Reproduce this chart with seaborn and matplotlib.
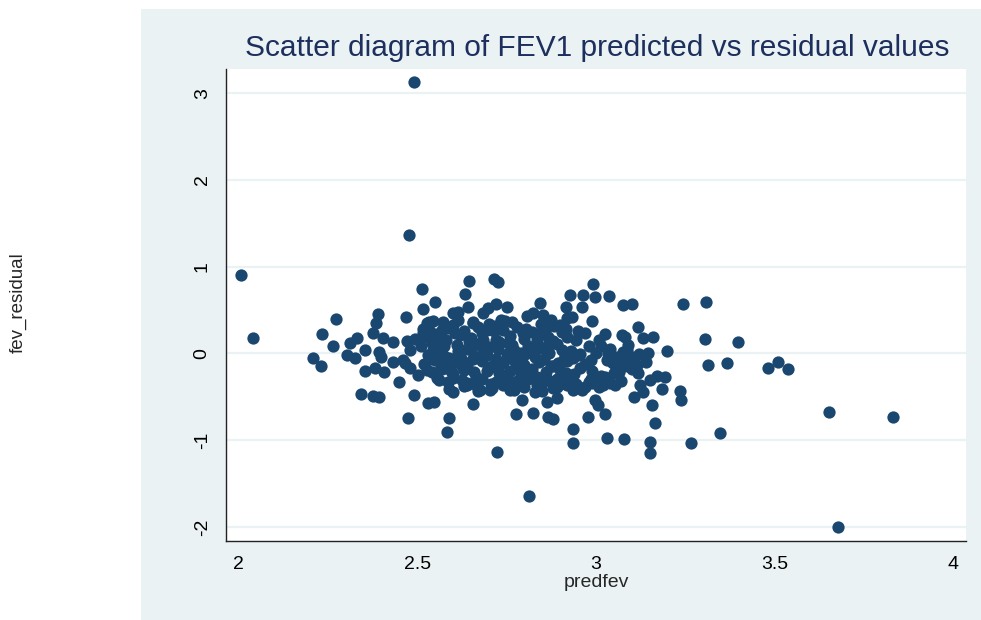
import matplotlib
matplotlib.use("Agg")
import matplotlib.pyplot as plt
import seaborn as sns
import pandas as pd
from matplotlib.patches import Rectangle

# Points (predfev, fev_residual)
# outer / sparse points
outer_x = [2.492, 2.477, 2.006, 2.040, 2.209, 2.231, 2.233, 2.272, 2.264,
           2.813, 3.679, 3.833, 3.653, 3.348, 3.265, 3.399, 3.367, 3.309, 3.245, 3.304,
           3.315, 3.483, 3.511, 3.539, 3.234, 3.237, 3.152, 3.152, 3.166, 3.158,
           3.186, 3.107, 3.079, 3.031, 3.026, 2.979, 2.937, 2.937, 2.998, 3.006, 2.722]
outer_y = [3.13, 1.365, 0.90, 0.18, -0.05, -0.15, 0.22, 0.40, 0.08,
           -1.646, -2.0, -0.73, -0.68, -0.915, -1.03, 0.13, -0.11, 0.59, 0.57, 0.165,
           -0.135, -0.17, -0.10, -0.18, -0.435, -0.54, -1.02, -1.15, -0.80, -0.596,
           -0.41, -0.50, -0.99, -0.98, -0.70, -0.73, -0.87, -1.03, -0.54, -0.60, -1.14]

# upper edge of the main cloud
upper_x = [2.645, 2.715, 2.726, 2.513, 2.634, 2.55, 2.517, 2.469, 2.642, 2.72,
           2.752, 2.698, 2.844, 2.928, 2.964, 2.992, 2.998, 3.037, 3.077, 3.102,
           2.916, 2.961, 2.824, 2.806, 2.853, 2.855, 2.99, 2.919, 2.933, 2.883,
           2.746, 2.684, 2.718, 2.656, 2.60, 2.614, 2.572, 2.533, 2.516, 3.119,
           3.073, 3.082, 3.133, 3.161, 3.2, 3.146, 3.034]
upper_y = [0.835, 0.855, 0.82, 0.74, 0.69, 0.59, 0.51, 0.42, 0.53, 0.57,
           0.53, 0.52, 0.58, 0.67, 0.67, 0.80, 0.65, 0.66, 0.56, 0.57,
           0.53, 0.53, 0.465, 0.43, 0.44, 0.36, 0.37, 0.41, 0.42, 0.315,
           0.37, 0.465, 0.315, 0.35, 0.465, 0.48, 0.36, 0.36, 0.28, 0.305,
           0.21, 0.19, 0.175, 0.19, 0.03, 0.00, -0.01]

# left part of the cloud
left_x = [2.39, 2.385, 2.376, 2.404, 2.432, 2.331, 2.312, 2.354, 2.304, 2.326,
          2.393, 2.399, 2.433, 2.461, 2.354, 2.382, 2.407, 2.45, 2.343, 2.376,
          2.393, 2.492, 2.474, 2.530, 2.547, 2.48, 2.502, 2.527, 2.471, 2.494,
          2.48, 2.516, 2.527, 2.466, 2.556]
left_y = [0.46, 0.35, 0.23, 0.175, 0.13, 0.175, 0.12, 0.04, -0.02, -0.055,
          0.015, -0.04, -0.10, -0.08, -0.20, -0.17, -0.21, -0.33, -0.47, -0.49,
          -0.50, -0.48, -0.75, -0.57, -0.56, -0.17, -0.25, -0.19, 0.14, 0.165,
          0.04, 0.23, 0.35, -0.11, -0.285]

# lower edge and right part of the cloud
lower_x = [2.589, 2.583, 2.656, 2.777, 2.825, 2.793, 2.867, 2.879, 2.85, 2.864,
           2.891, 2.639, 2.601, 2.676, 2.704, 2.76, 2.844, 2.891, 2.937, 2.951,
           2.97, 2.99, 3.152, 3.171, 3.194, 3.124, 3.133, 3.026, 3.021, 3.04,
           3.054, 3.086, 3.1, 3.068, 3.049, 3.077, 3.096, 3.115, 3.119]
lower_y = [-0.75, -0.91, -0.585, -0.70, -0.69, -0.54, -0.73, -0.76, -0.435, -0.56,
           -0.52, -0.365, -0.44, -0.42, -0.42, -0.42, -0.42, -0.385, -0.42, -0.385,
           -0.385, -0.345, -0.31, -0.26, -0.27, -0.365, -0.44, -0.27, -0.365, -0.345,
           -0.365, 0.04, -0.04, -0.04, -0.115, -0.115, -0.155, -0.135, -0.23]

# dense core of the cloud
core_x = [2.53, 2.57, 2.60, 2.63, 2.67, 2.70, 2.74, 2.78, 2.82, 2.86, 2.90, 2.95,
          2.52, 2.55, 2.58, 2.62, 2.65, 2.68, 2.72, 2.76, 2.80, 2.84, 2.88, 2.92, 2.97, 3.01,
          2.51, 2.54, 2.57, 2.61, 2.64, 2.67, 2.70, 2.73, 2.77, 2.81, 2.85, 2.89, 2.93, 2.98, 3.04, 3.09,
          2.53, 2.56, 2.59, 2.62, 2.66, 2.69, 2.72, 2.75, 2.79, 2.83, 2.87, 2.91, 2.95, 3.00, 3.06, 3.12,
          2.52, 2.55, 2.58, 2.61, 2.64, 2.68, 2.71, 2.74, 2.77, 2.80, 2.84, 2.88, 2.92, 2.97, 3.03, 3.08, 3.14,
          2.54, 2.57, 2.60, 2.63, 2.66, 2.70, 2.73, 2.76, 2.79, 2.82, 2.86, 2.90, 2.94, 2.99, 3.05, 3.10,
          2.56, 2.60, 2.64, 2.68, 2.72, 2.75, 2.78, 2.81, 2.85, 2.89, 2.93, 2.98, 3.02, 3.07,
          2.59, 2.63, 2.67, 2.71, 2.74, 2.77, 2.80, 2.83, 2.88, 2.92, 2.96, 3.01]
core_y = [0.31, 0.27, 0.33, 0.26, 0.30, 0.34, 0.27, 0.31, 0.25, 0.29, 0.33, 0.26,
          0.19, 0.22, 0.16, 0.21, 0.18, 0.23, 0.15, 0.20, 0.17, 0.22, 0.14, 0.19, 0.23, 0.16,
          0.08, 0.12, 0.06, 0.10, 0.05, 0.11, 0.07, 0.13, 0.04, 0.09, 0.06, 0.11, 0.03, 0.08, 0.05, 0.10,
          -0.02, 0.02, -0.05, 0.01, -0.03, 0.02, -0.06, -0.01, 0.01, -0.04, 0.00, -0.07, -0.02, 0.01, -0.04, -0.01,
          -0.12, -0.08, -0.14, -0.10, -0.13, -0.09, -0.15, -0.11, -0.08, -0.13, -0.10, -0.15, -0.09, -0.12, -0.08, -0.14, -0.10,
          -0.21, -0.18, -0.24, -0.19, -0.22, -0.17, -0.23, -0.20, -0.25, -0.18, -0.22, -0.19, -0.24, -0.20, -0.23, -0.18,
          -0.31, -0.28, -0.34, -0.29, -0.33, -0.27, -0.32, -0.29, -0.34, -0.30, -0.28, -0.33, -0.29, -0.32,
          -0.41, -0.38, -0.43, -0.40, -0.37, -0.42, -0.39, -0.44, -0.40, -0.37, -0.42, -0.39]

# more points filling the gaps of the dense core
fill_x = [2.545, 2.585, 2.615, 2.655, 2.695, 2.735, 2.765, 2.805, 2.845, 2.875, 2.915,
          2.535, 2.565, 2.605, 2.645, 2.685, 2.715, 2.755, 2.795, 2.835, 2.865, 2.905, 2.945, 3.025,
          2.545, 2.575, 2.615, 2.655, 2.685, 2.725, 2.765, 2.795, 2.825, 2.865, 2.905, 2.955, 3.015, 3.075,
          2.535, 2.575, 2.625, 2.655, 2.695, 2.725, 2.755, 2.785, 2.825, 2.855, 2.895, 2.935, 2.985, 3.045, 3.095,
          2.565, 2.595, 2.625, 2.665, 2.695, 2.745, 2.775, 2.805, 2.835, 2.875, 2.915, 2.955, 3.015, 3.065,
          2.585, 2.625, 2.665, 2.705, 2.735, 2.765, 2.795, 2.835, 2.865, 2.905, 2.945, 2.985, 3.035]
fill_y = [0.37, 0.29, 0.38, 0.36, 0.27, 0.39, 0.36, 0.28, 0.34, 0.38, 0.28,
          0.25, 0.14, 0.24, 0.14, 0.16, 0.26, 0.12, 0.24, 0.15, 0.19, 0.25, 0.15, 0.22,
          0.04, 0.08, 0.03, 0.09, 0.01, 0.05, 0.10, -0.03, 0.05, 0.10, 0.04, -0.01, 0.08, 0.02,
          -0.07, -0.03, -0.08, -0.06, -0.02, -0.11, -0.05, -0.09, -0.01, -0.07, -0.11, -0.05, -0.08, -0.10, -0.06,
          -0.16, -0.20, -0.15, -0.27, -0.20, -0.25, -0.16, -0.21, -0.27, -0.15, -0.23, -0.17, -0.26, -0.21,
          -0.33, -0.31, -0.37, -0.35, -0.30, -0.36, -0.33, -0.36, -0.31, -0.34, -0.35, -0.29, -0.33]

x_ticks = [2, 2.5, 3, 3.5, 4]
x_labels = ["2", "2.5", "3", "3.5", "4"]
y_ticks = [-2, -1, 0, 1, 2, 3]
y_labels = ["-2", "-1", "0", "1", "2", "3"]

df = pd.DataFrame({
    "predfev": outer_x + upper_x + left_x + lower_x + core_x + fill_x,
    "fev_residual": outer_y + upper_y + left_y + lower_y + core_y + fill_y,
})

bg = "#eaf2f3"
navy = "#1a476f"

sns.set_style("white")
plt.rcParams["font.family"] = ["Liberation Sans", "DejaVu Sans"]
plt.rcParams["axes.unicode_minus"] = False

fig = plt.figure(figsize=(9.81, 6.2), dpi=100)
fig.patches.append(Rectangle((141 / 981, 0), 1 - 141 / 981, 1 - 9 / 620,
                             transform=fig.transFigure, facecolor=bg,
                             edgecolor="none", zorder=-10))

ax = fig.add_axes([226 / 981, 1 - 540.7 / 620, (966 - 226) / 981, (540.7 - 69) / 620])
ax.set_zorder(1)
ax.set_facecolor("white")

sns.scatterplot(data=df, x="predfev", y="fev_residual", ax=ax,
                s=78, color=navy, linewidth=0, zorder=3)

ax.set_xlim(1.9645, 4.036)
ax.set_ylim(-2.16, 3.28)
ax.set_xticks(x_ticks)
ax.set_xticklabels(x_labels)
ax.set_yticks(y_ticks)
ax.set_yticklabels(y_labels, rotation=90, va="center")

ax.yaxis.grid(True, color=bg, linewidth=1.6, zorder=0)
ax.xaxis.grid(False)
ax.set_axisbelow(True)

for s in ["top", "right"]:
    ax.spines[s].set_visible(False)
for s in ["left", "bottom"]:
    ax.spines[s].set_color("#222222")
    ax.spines[s].set_linewidth(1.0)

ax.tick_params(axis="both", direction="out", length=5, width=1,
               color="#444444", labelsize=14, labelcolor="black", pad=6)

ax.set_xlabel("predfev", fontsize=14, labelpad=1)
ax.set_ylabel("")
fig.text(18 / 981, 1 - 303 / 620, "fev_residual", rotation=90,
         ha="center", va="center", fontsize=13.5)

fig.text(597 / 981, 1 - 48 / 620,
         "Scatter diagram of FEV1 predicted vs residual values",
         ha="center", va="center", fontsize=21.5, color="#1c2f5d")

fig.savefig("out.png", dpi=100)
